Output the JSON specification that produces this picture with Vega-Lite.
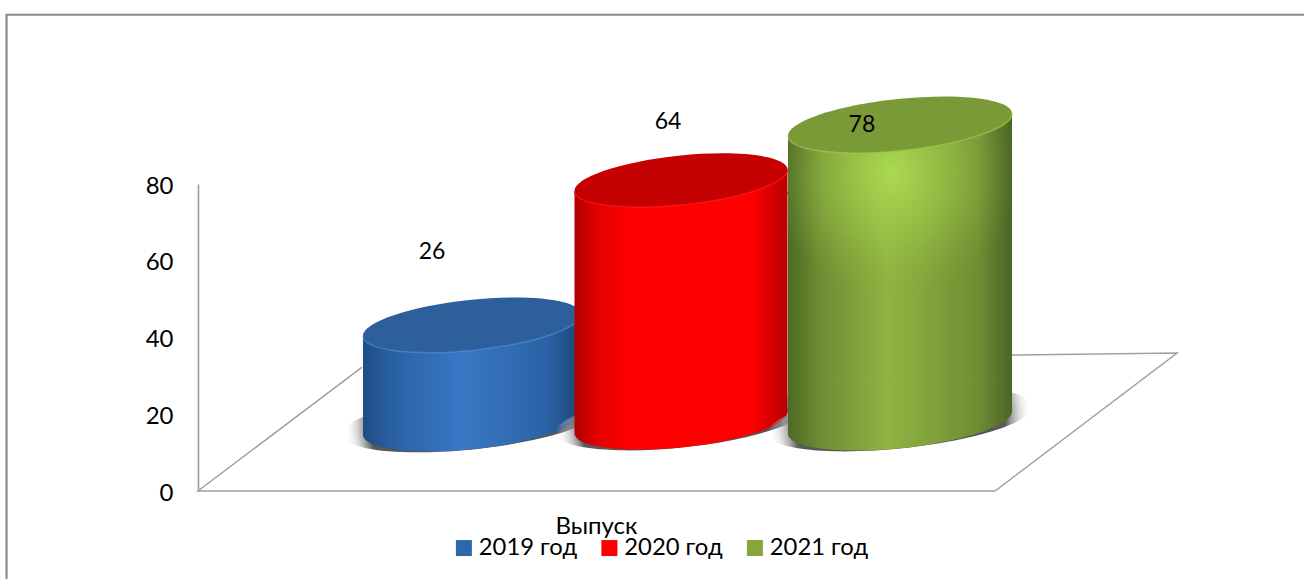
{
"$schema":"https://vega.github.io/schema/vega-lite/v6.json",
"width":797,"height":307,
"autosize":{"type":"none"},
"padding":{"left":198,"top":184,"right":309,"bottom":88},
"background":"white",
"config":{"view":{"stroke":null},"font":"Lato","axis":{"grid":false},"legend":{"labelFont":"Lato"}},
"datasets":{
"bars":[
{"year":2019,"label":"2019 год","value":26,"top":40.26,"base":20.46,"labelX":2018.809,"labelY":62.3},
{"year":2020,"label":"2020 год","value":64,"top":78.05,"base":20.72,"labelX":2019.938,"labelY":96.1},
{"year":2021,"label":"2021 год","value":78,"top":92.38,"base":20.98,"labelX":2020.826,"labelY":95.3}],
"floor":[
{"o":1,"px":2018.474,"py":32.3},{"o":2,"px":2017.689,"py":0},{"o":3,"px":2021.434,"py":0},{"o":4,"px":2022.265,"py":35.96},{"o":5,"px":2021.511,"py":35.44}],
"frame":[{"o":1,"px":2016.773,"py":-23.2},{"o":2,"px":2016.773,"py":124.1},{"o":3,"px":2022.845,"py":124.1}]
},
"layer":[
{"data":{"name":"frame"},"mark":{"type":"line","color":"#8c8c8c","strokeWidth":2.2},
 "encoding":{"x":{"field":"px","type":"quantitative","title":"Выпуск","scale":{"domain":[2019,2020,2021],"range":[274,483,702],"nice":false,"zero":false,"padding":0},"axis":{"labels":false,"ticks":false,"domain":false,"grid":false,"titleFontSize":24,"titleFontWeight":"normal","titleColor":"#000","titlePadding":23,"titleX":398}},
 "y":{"field":"py","type":"quantitative","title":null,"scale":{"domain":[0,80],"nice":false},"axis":{"values":[0,20,40,60,80],"ticks":false,"domain":true,"domainColor":"#999999","domainWidth":1.5,"grid":false,"labelFontSize":24,"labelColor":"#000","labelPadding":25,"labelOffset":2}},"order":{"field":"o","type":"quantitative"}}},
{"data":{"name":"floor"},"mark":{"type":"line","color":"#a0a0a0","strokeWidth":1.5},
 "encoding":{"x":{"field":"px","type":"quantitative","scale":{"domain":[2019,2020,2021],"range":[274,483,702],"nice":false,"zero":false,"padding":0}},
 "y":{"field":"py","type":"quantitative","title":null,"scale":{"domain":[0,80],"nice":false}},"order":{"field":"o","type":"quantitative"}}},
{"data":{"name":"bars"},"mark":{"type":"square","size":100,"opacity":1},
 "encoding":{"x":{"field":"year","type":"quantitative","scale":{"domain":[2019,2020,2021],"range":[274,483,702],"nice":false,"zero":false,"padding":0}},
 "y":{"field":"base","type":"quantitative","title":null,"scale":{"domain":[0,80],"nice":false}},
 "color":{"field":"label","type":"nominal","scale":{"domain":["2019 год","2020 год","2021 год"],"range":["#2f67ad","#ff0000","#86a63c"]},
  "legend":{"title":null,"orient":"none","legendX":254,"legendY":352,"direction":"horizontal","columns":3,"symbolType":"square","symbolSize":256,"symbolStrokeWidth":0,"labelFontSize":23.8,"labelColor":"#000","labelOffset":3,"columnPadding":19.5,"labelFont":"Lato"}}}},
{"data":{"name":"bars"},"transform":[{"filter":"datum.year==2019"}],
 "encoding":{"x":{"field":"year","type":"quantitative","scale":{"domain":[2019,2020,2021],"range":[274,483,702],"nice":false,"zero":false,"padding":0}}},
 "layer":[
 {"mark":{"type":"point","shape":"M-1.173,0.203 A1.18,.25,-6,1,1,1.173,-0.043 A1.18,.25,-6,1,1,-1.173,.203 Z","size":47524,"filled":true,"opacity":1,"strokeWidth":0,"color":{"gradient":"radial","x1":0.5,"y1":0.5,"r1":0,"x2":0.5,"y2":0.5,"r2":0.5,"stops":[{"offset":0,"color":"#4d4d4d"},{"offset":0.8,"color":"#5a5a5a"},{"offset":1,"color":"rgba(255,255,255,0)"}]}},
  "encoding":{"y":{"field":"base","type":"quantitative","title":null,"scale":{"domain":[0,80],"nice":false}}}},
 {"mark":{"type":"point","shape":"M-1,-.03 L1,-.03 L1,0 A1,.23,-6,0,1,-1,.21 Z","size":47524,"filled":true,"opacity":1,"strokeWidth":0,"color":{"gradient":"linear","x1":0,"y1":0,"x2":1,"y2":0,"stops":[{"offset":0,"color":"#1f4d85"},{"offset":0.15,"color":"#2a62a5"},{"offset":0.45,"color":"#3a78c6"},{"offset":0.85,"color":"#2a62a5"},{"offset":1,"color":"#1c4676"}]}},
  "encoding":{"y":{"field":"base","type":"quantitative","title":null,"scale":{"domain":[0,80],"nice":false}}}},
 {"mark":{"type":"bar","orient":"vertical","size":218,"color":{"gradient":"linear","x1":0,"y1":0,"x2":1,"y2":0,"stops":[{"offset":0,"color":"#1f4d85"},{"offset":0.15,"color":"#2a62a5"},{"offset":0.45,"color":"#3a78c6"},{"offset":0.85,"color":"#2a62a5"},{"offset":1,"color":"#1c4676"}]}},
  "encoding":{"y":{"field":"top","type":"quantitative","title":null,"scale":{"domain":[0,80],"nice":false}},"y2":{"field":"base"}}},
 {"mark":{"type":"point","shape":"M-1,.03 L-1,0 L1,-.21 L1,.03 Z","size":47524,"filled":true,"opacity":1,"strokeWidth":0,"color":{"gradient":"linear","x1":0,"y1":0,"x2":1,"y2":0,"stops":[{"offset":0,"color":"#1f4d85"},{"offset":0.15,"color":"#2a62a5"},{"offset":0.45,"color":"#3a78c6"},{"offset":0.85,"color":"#2a62a5"},{"offset":1,"color":"#1c4676"}]}},
  "encoding":{"y":{"field":"top","type":"quantitative","title":null,"scale":{"domain":[0,80],"nice":false}}}},
 {"mark":{"type":"point","shape":"M-1,0 A1,.23,-6,1,1,1,-.21 A1,.23,-6,1,1,-1,0 Z","size":47524,"filled":true,"opacity":1,"strokeWidth":0,"color":"#2c5f9c"},
  "encoding":{"y":{"field":"top","type":"quantitative","title":null,"scale":{"domain":[0,80],"nice":false}}}},
 {"mark":{"type":"point","shape":"M-1,0 A1,.23,-6,0,0,1,-.21","size":47524,"filled":false,"opacity":0.7,"strokeWidth":1.5,"color":"#4f8bd6"},
  "encoding":{"y":{"field":"top","type":"quantitative","title":null,"scale":{"domain":[0,80],"nice":false}}}}
 ]},
{"data":{"name":"bars"},"transform":[{"filter":"datum.year==2020"}],
 "encoding":{"x":{"field":"year","type":"quantitative","scale":{"domain":[2019,2020,2021],"range":[274,483,702],"nice":false,"zero":false,"padding":0}}},
 "layer":[
 {"mark":{"type":"point","shape":"M-1.173,0.203 A1.18,.25,-6,1,1,1.173,-0.043 A1.18,.25,-6,1,1,-1.173,.203 Z","size":45369,"filled":true,"opacity":1,"strokeWidth":0,"color":{"gradient":"radial","x1":0.5,"y1":0.5,"r1":0,"x2":0.5,"y2":0.5,"r2":0.5,"stops":[{"offset":0,"color":"#4d4d4d"},{"offset":0.8,"color":"#5a5a5a"},{"offset":1,"color":"rgba(255,255,255,0)"}]}},
  "encoding":{"y":{"field":"base","type":"quantitative","title":null,"scale":{"domain":[0,80],"nice":false}}}},
 {"mark":{"type":"point","shape":"M-1,-.03 L1,-.03 L1,0 A1,.23,-6,0,1,-1,.21 Z","size":45369,"filled":true,"opacity":1,"strokeWidth":0,"color":{"gradient":"linear","x1":0,"y1":0,"x2":1,"y2":0,"stops":[{"offset":0,"color":"#b00000"},{"offset":0.12,"color":"#e80000"},{"offset":0.28,"color":"#ff0000"},{"offset":0.82,"color":"#ff0000"},{"offset":1,"color":"#b80000"}]}},
  "encoding":{"y":{"field":"base","type":"quantitative","title":null,"scale":{"domain":[0,80],"nice":false}}}},
 {"mark":{"type":"bar","orient":"vertical","size":213,"color":{"gradient":"linear","x1":0,"y1":0,"x2":1,"y2":0,"stops":[{"offset":0,"color":"#b00000"},{"offset":0.12,"color":"#e80000"},{"offset":0.28,"color":"#ff0000"},{"offset":0.82,"color":"#ff0000"},{"offset":1,"color":"#b80000"}]}},
  "encoding":{"y":{"field":"top","type":"quantitative","title":null,"scale":{"domain":[0,80],"nice":false}},"y2":{"field":"base"}}},
 {"mark":{"type":"point","shape":"M-1,.03 L-1,0 L1,-.21 L1,.03 Z","size":45369,"filled":true,"opacity":1,"strokeWidth":0,"color":{"gradient":"linear","x1":0,"y1":0,"x2":1,"y2":0,"stops":[{"offset":0,"color":"#b00000"},{"offset":0.12,"color":"#e80000"},{"offset":0.28,"color":"#ff0000"},{"offset":0.82,"color":"#ff0000"},{"offset":1,"color":"#b80000"}]}},
  "encoding":{"y":{"field":"top","type":"quantitative","title":null,"scale":{"domain":[0,80],"nice":false}}}},
 {"mark":{"type":"point","shape":"M-1,0 A1,.23,-6,1,1,1,-.21 A1,.23,-6,1,1,-1,0 Z","size":45369,"filled":true,"opacity":1,"strokeWidth":0,"color":"#c40000"},
  "encoding":{"y":{"field":"top","type":"quantitative","title":null,"scale":{"domain":[0,80],"nice":false}}}},
 {"mark":{"type":"point","shape":"M-1,0 A1,.23,-6,0,0,1,-.21","size":45369,"filled":false,"opacity":0.7,"strokeWidth":1.5,"color":"#ff1a1a"},
  "encoding":{"y":{"field":"top","type":"quantitative","title":null,"scale":{"domain":[0,80],"nice":false}}}}
 ]},
{"data":{"name":"bars"},"transform":[{"filter":"datum.year==2021"}],
 "encoding":{"x":{"field":"year","type":"quantitative","scale":{"domain":[2019,2020,2021],"range":[274,483,702],"nice":false,"zero":false,"padding":0}}},
 "layer":[
 {"mark":{"type":"point","shape":"M-1.173,0.203 A1.18,.25,-6,1,1,1.173,-0.043 A1.18,.25,-6,1,1,-1.173,.203 Z","size":50176,"filled":true,"opacity":1,"strokeWidth":0,"color":{"gradient":"radial","x1":0.5,"y1":0.5,"r1":0,"x2":0.5,"y2":0.5,"r2":0.5,"stops":[{"offset":0,"color":"#4d4d4d"},{"offset":0.8,"color":"#5a5a5a"},{"offset":1,"color":"rgba(255,255,255,0)"}]}},
  "encoding":{"y":{"field":"base","type":"quantitative","title":null,"scale":{"domain":[0,80],"nice":false}}}},
 {"mark":{"type":"point","shape":"M-1,-.03 L1,-.03 L1,0 A1,.23,-6,0,1,-1,.21 Z","size":50176,"filled":true,"opacity":1,"strokeWidth":0,"color":{"gradient":"linear","x1":0,"y1":0,"x2":1,"y2":0,"stops":[{"offset":0,"color":"#4e6a26"},{"offset":0.15,"color":"#6f8d33"},{"offset":0.45,"color":"#90b442"},{"offset":0.85,"color":"#6f8d33"},{"offset":1,"color":"#4b6524"}]}},
  "encoding":{"y":{"field":"base","type":"quantitative","title":null,"scale":{"domain":[0,80],"nice":false}}}},
 {"mark":{"type":"bar","orient":"vertical","size":224,"color":{"gradient":"linear","x1":0,"y1":0,"x2":1,"y2":0,"stops":[{"offset":0,"color":"#4e6a26"},{"offset":0.15,"color":"#6f8d33"},{"offset":0.45,"color":"#90b442"},{"offset":0.85,"color":"#6f8d33"},{"offset":1,"color":"#4b6524"}]}},
  "encoding":{"y":{"field":"top","type":"quantitative","title":null,"scale":{"domain":[0,80],"nice":false}},"y2":{"field":"base"}}},
 {"mark":{"type":"point","shape":"M-1,0 L1,0 L1,2.2 L-1,2.2 Z","size":50176,"filled":true,"opacity":1,"strokeWidth":0,"color":{"gradient":"radial","x1":0.47,"y1":0.15,"r1":0,"x2":0.47,"y2":0.15,"r2":0.5,"stops":[{"offset":0,"color":"rgba(176,224,84,0.85)"},{"offset":0.55,"color":"rgba(160,205,72,0.45)"},{"offset":1,"color":"rgba(140,173,64,0)"}]}},
  "encoding":{"y":{"field":"top","type":"quantitative","title":null,"scale":{"domain":[0,80],"nice":false}}}},
 {"mark":{"type":"point","shape":"M-1,.03 L-1,0 L1,-.21 L1,.03 Z","size":50176,"filled":true,"opacity":1,"strokeWidth":0,"color":{"gradient":"linear","x1":0,"y1":0,"x2":1,"y2":0,"stops":[{"offset":0,"color":"#4e6a26"},{"offset":0.15,"color":"#7a9a38"},{"offset":0.45,"color":"#a6d04c"},{"offset":0.85,"color":"#7c9c38"},{"offset":1,"color":"#4b6524"}]}},
  "encoding":{"y":{"field":"top","type":"quantitative","title":null,"scale":{"domain":[0,80],"nice":false}}}},
 {"mark":{"type":"point","shape":"M-1,0 A1,.23,-6,1,1,1,-.21 A1,.23,-6,1,1,-1,0 Z","size":50176,"filled":true,"opacity":1,"strokeWidth":0,"color":"#7a9a38"},
  "encoding":{"y":{"field":"top","type":"quantitative","title":null,"scale":{"domain":[0,80],"nice":false}}}},
 {"mark":{"type":"point","shape":"M-1,0 A1,.23,-6,0,0,1,-.21","size":50176,"filled":false,"opacity":0.7,"strokeWidth":1.5,"color":"#a2cb4c"},
  "encoding":{"y":{"field":"top","type":"quantitative","title":null,"scale":{"domain":[0,80],"nice":false}}}}
 ]},
{"data":{"name":"bars"},"mark":{"type":"text","fontSize":23,"color":"#000","baseline":"middle","align":"center"},
 "encoding":{"x":{"field":"labelX","type":"quantitative","scale":{"domain":[2019,2020,2021],"range":[274,483,702],"nice":false,"zero":false,"padding":0}},
 "y":{"field":"labelY","type":"quantitative","title":null,"scale":{"domain":[0,80],"nice":false}},
 "text":{"field":"value","type":"quantitative"}}}
]
}
